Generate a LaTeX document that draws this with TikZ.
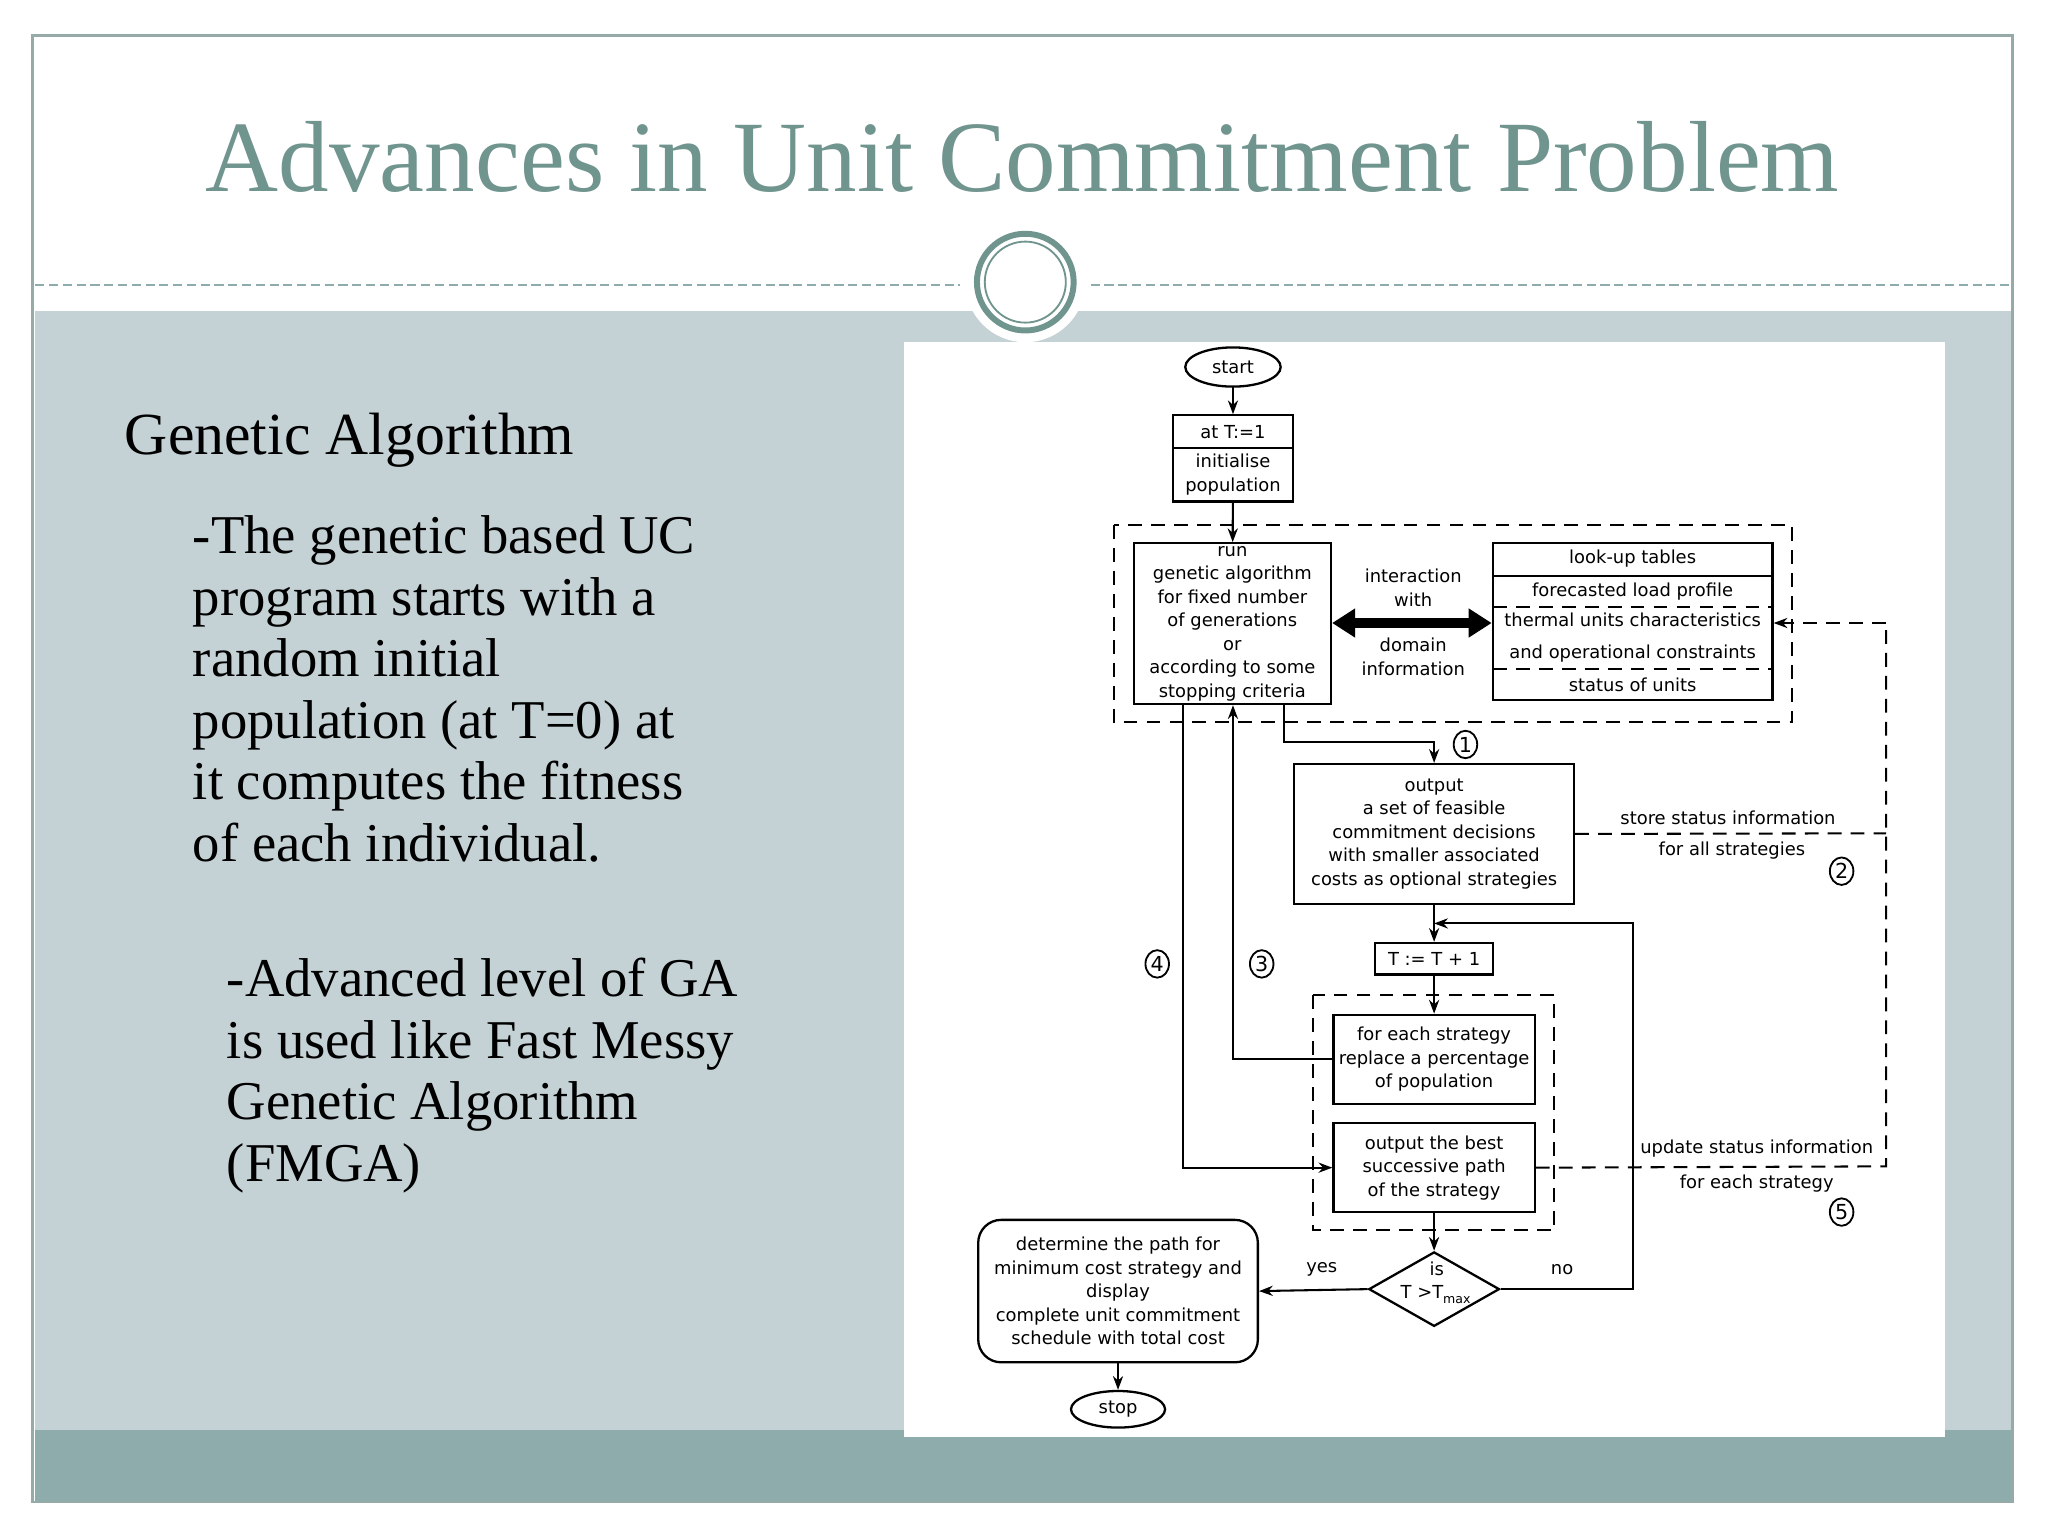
\documentclass[tikz,border=0pt]{standalone}
\usepackage{fontspec}
\setmainfont{Liberation Serif}
\newfontfamily\fc{DejaVu Sans}
\usetikzlibrary{shapes.geometric,arrows.meta}
\definecolor{ttl}{RGB}{112,148,142}
\definecolor{band}{RGB}{196,209,213}
\definecolor{strip}{RGB}{142,172,172}
\definecolor{frm}{RGB}{150,170,168}
\begin{document}
\begin{tikzpicture}[x=0.01cm,y=-0.01cm,
  bx/.style={draw,line width=0.5pt,inner sep=0pt,align=center,font=\fc\fontsize{3.9}{5.1}\selectfont},
  fl/.style={line width=0.45pt},
  ar/.style={fl,-{Stealth[length=3pt,width=2.2pt]}},
  dsh/.style={line width=0.45pt,dash pattern=on 3pt off 2pt},
  num/.style={draw,ellipse,line width=0.4pt,inner sep=0pt,minimum width=0.18cm,minimum height=0.21cm,font=\fc\fontsize{4.5}{5}\selectfont},
  lb/.style={font=\fc\fontsize{3.9}{5.1}\selectfont,align=center,inner sep=0pt}]
\useasboundingbox (0,0) rectangle (1568,1176);
\fill[white] (0,0) rectangle (1568,1176);
\fill[band] (27,238) rectangle (1541,1095);
\fill[strip] (27,1095) rectangle (1541,1150);
\draw[frm,line width=0.6pt] (25,27) rectangle (1541,1150);
\draw[strip,dash pattern=on 2pt off 1pt,line width=0.4pt] (27,218) -- (735,218) (835,218) -- (1541,218);
\fill[white] (785,216) circle[radius=0.46cm];
\draw[ttl,line width=1.3pt] (785,216) circle[radius=0.37cm];
\draw[ttl,line width=0.4pt] (785,216) circle[radius=0.31cm];
\node[ttl,font=\fontsize{22}{25}\selectfont] (title) at (783,120) {Advances in Unit Commitment Problem};
\node[anchor=west,font=\fontsize{13}{14}\selectfont,inner sep=0pt] (h) at (95,337) {Genetic Algorithm};
\node[anchor=north west,align=left,font=\fontsize{11.9}{13.4}\selectfont,inner sep=0pt] (p1) at (147,394) {-The genetic based UC\\program starts with a\\random initial\\population (at T=0) at\\it computes the fitness\\of each individual.};
\node[anchor=north west,align=left,font=\fontsize{11.9}{13.4}\selectfont,inner sep=0pt] (p2) at (173,733) {-Advanced level of GA\\is used like Fast Messy\\Genetic Algorithm\\(FMGA)};
\fill[white] (692,262) rectangle (1489,1100);
% flowchart
\node[bx,ellipse,minimum width=0.73cm,minimum height=0.3cm] (start) at (944,281) {start};
\node[bx,minimum width=0.92cm,minimum height=0.25cm] (t1) at (944,330.5) {at T:=1};
\node[bx,minimum width=0.92cm,minimum height=0.41cm] (init) at (944,363.5) {initialise\\population};
\draw[dsh] (853,402) rectangle (1372,553);
\node[bx,minimum width=1.51cm,minimum height=1.23cm] (run) at (943.5,477.5) {run\\genetic algorithm\\for fixed number\\of generations\\or\\according to some\\stopping criteria};
\node[bx,minimum width=2.14cm,minimum height=1.2cm] (look) at (1250,476) {};
\draw[fl] (1143,441) -- (1357,441);
\draw[dsh] (1143,465) -- (1357,465) (1143,512) -- (1357,512);
\node[lb] (lk1) at (1250,428) {look-up tables};
\node[lb] (lk2) at (1250,453) {forecasted load profile};
\node[lb] (lk3) at (1250,488) {thermal units characteristics\\[2pt]and operational constraints};
\node[lb] (lk4) at (1250,524) {status of units};
\node[lb] (iw) at (1082,450) {interaction\\with};
\node[lb] (di) at (1082,503) {domain\\information};
\draw[line width=2pt,{Triangle[length=5pt,width=6pt]}-{Triangle[length=5pt,width=6pt]}] (run.east |- 0,477) -- (look.west |- 0,477);
\node[bx,minimum width=2.14cm,minimum height=1.07cm] (out) at (1098,638.5) {output\\a set of feasible\\commitment decisions\\with smaller associated\\costs as optional strategies};
\node[num] (n1) at (1122,570) {1};
\node[num] (n2) at (1410,667) {2};
\node[num] (n3) at (966,738) {3};
\node[num] (n4) at (886,738) {4};
\node[num] (n5) at (1410,928) {5};
\node[lb] (ss) at (1323,626) {store status information};
\node[lb] (fa) at (1326,651) {for all strategies};
\node[bx,minimum width=0.9cm,minimum height=0.24cm] (tt) at (1098,734) {T := T + 1};
\draw[dsh] (1005,762) rectangle (1190,942);
\node[bx,minimum width=1.54cm,minimum height=0.68cm] (fe) at (1098,811) {for each strategy\\replace a percentage\\of population};
\node[bx,minimum width=1.54cm,minimum height=0.68cm] (ob) at (1098,894) {output the best\\successive path\\of the strategy};
\node[lb] (us) at (1345,879) {update status information};
\node[lb] (fe2) at (1345,906) {for each strategy};
\node[bx,diamond,minimum width=1.0cm,minimum height=0.57cm] (dm) at (1098,987) {};
\node[lb] (dmt) at (1100,982) {is\\T >T\textsubscript{max}};
\node[lb] (yes) at (1012,972) {yes};
\node[lb] (no) at (1196,972) {no};
\node[bx,rounded corners=5pt,minimum width=2.14cm,minimum height=1.09cm] (det) at (856,988.5) {determine the path for\\minimum cost strategy and\\display\\complete unit commitment\\schedule with total cost};
\node[bx,ellipse,minimum width=0.72cm,minimum height=0.28cm] (stop) at (856,1079) {stop};
\coordinate (lkr) at (1444,477);
\coordinate (loop) at (1250,707);
% connectors
\draw[ar] (start) -- (t1);
\draw[ar] (init) -- (run);
\draw[ar] (run.south -| 983,0) |- (1098,568) -- (out.north);
\draw[ar] (out) -- (tt);
\draw[ar] (tt) -- (fe);
\draw[ar] (fe.west) -| (run.south -| 944,0);
\draw[ar] (run.south -| 906,0) |- (ob.west);
\draw[ar] (ob) -- (dm);
\draw[ar] (dm.west) -- (det.east);
\draw[ar] (dm.east) -| (loop) -- (1098,707);
\draw[ar] (det) -- (stop);
\draw[dsh] (out.east) -- (1444,638);
\draw[dsh] (ob.east) -- (1444,893) -- (lkr);
\draw[dsh,-{Stealth[length=3pt,width=2.2pt]}] (lkr) -- (look.east |- lkr);
\end{tikzpicture}
\end{document}
